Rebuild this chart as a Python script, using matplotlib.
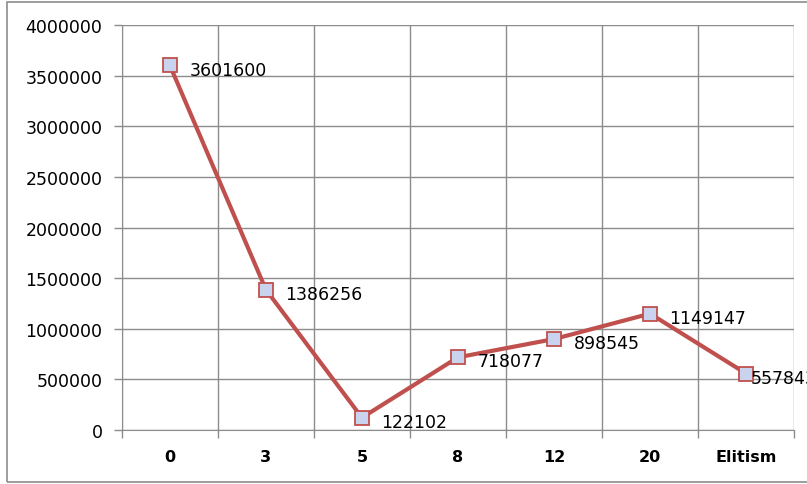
import matplotlib
matplotlib.use('Agg')
import matplotlib.pyplot as plt
from matplotlib.patches import Rectangle

categories = ['0', '3', '5', '8', '12', '20', 'Elitism']
values = [3601600, 1386256, 122102, 718077, 898545, 1149147, 557843]
y_ticks = [0, 500000, 1000000, 1500000, 2000000, 2500000, 3000000, 3500000, 4000000]

line_color = '#C0504D'
marker_face = '#C9D3EE'
grid_color = '#8C8C8C'

fig = plt.figure(figsize=(8.07, 4.85), dpi=100)
ax = fig.add_axes([0.151, 0.1113, 0.833, 0.835])

x = list(range(len(categories)))
ax.plot(x, values, color=line_color, lw=3, zorder=3,
        marker='s', markersize=10, markerfacecolor=marker_face,
        markeredgecolor=line_color, markeredgewidth=1.3)

for xi, v in zip(x, values):
    dx = 3 if xi == len(categories) - 1 else 14
    ax.annotate(str(v), (xi, v), xytext=(dx, -3), textcoords='offset points',
                fontsize=12.5, va='center', ha='left', color='black',
                annotation_clip=False, zorder=4)

ax.set_xlim(-0.5, len(categories) - 0.5)
ax.set_ylim(0, 4000000)
ax.set_yticks(y_ticks)
ax.set_yticklabels([str(t) for t in y_ticks], fontsize=12.5)

# category labels centred between the gridlines
ax.set_xticks(x)
ax.set_xticklabels(categories, fontsize=11.5, fontweight='bold')
ax.tick_params(axis='x', length=0, pad=14)
ax.set_xticks([i - 0.5 for i in range(len(categories) + 1)], minor=True)
ax.tick_params(axis='x', which='minor', length=6, color=grid_color, width=1)
ax.tick_params(axis='y', length=6, color=grid_color, width=1, pad=8)

ax.grid(True, which='major', axis='y', color=grid_color, lw=1)
ax.grid(True, which='minor', axis='x', color=grid_color, lw=1)
ax.set_axisbelow(True)

for side in ['top', 'right']:
    ax.spines[side].set_visible(False)
for side in ['left', 'bottom']:
    ax.spines[side].set_color(grid_color)

# outer chart border
fig.patches.append(Rectangle((0.009, 0.004), 1.2, 0.99, transform=fig.transFigure,
                             fill=False, edgecolor='#8C8C8C', lw=1.2))

fig.savefig('out.png', dpi=100)
